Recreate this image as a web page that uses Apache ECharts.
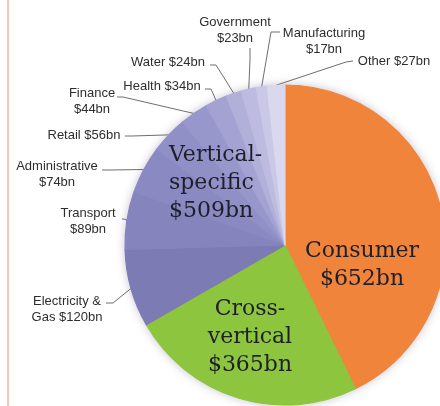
<!DOCTYPE html>
<html><head><meta charset="utf-8">
<script src="https://cdn.jsdelivr.net/npm/echarts@6/dist/echarts.min.js"></script>
<style>html,body{margin:0;padding:0;background:#fff}#c{width:440px;height:406px}</style>
</head><body><div id="c"></div>
<script>
// ---- data ----
const groupNames = ['Consumer', 'Cross-vertical', 'Vertical-specific'];
const groupValues = [652, 365, 509];
const segmentNames = ['Electricity & Gas', 'Transport', 'Administrative', 'Retail', 'Finance',
  'Health', 'Water', 'Government', 'Manufacturing', 'Other'];
const segmentValues = [120, 89, 74, 56, 44, 34, 24, 23, 17, 27];

// ---- styles ----
const groupColors = ['#f0843a', '#8dc53f'];
const segmentColors = ['#7c7bb4', '#8584bd', '#8a89c2', '#908fc6', '#9897cb',
  '#a3a2d2', '#b1b0d9', '#bdbce0', '#c9c8e6', '#d9d8ee'];

// ---- label layout (text placement only) ----
const groupLabelLayout = [
  { x: 362, y: 265, align: 'center' },
  { x: 250, y: 337, align: 'center' },
  { x: 169, y: 183, align: 'left' }
];
const segLabelLayout = [
  { x: 67,  y: 309, wrap: ' Gas', end: [106, 303], elbow: [113, 303] },
  { x: 88,  y: 221, wrap: ' $',   end: [122, 219], elbow: [124, 219] },
  { x: 57,  y: 174, wrap: ' $',   end: [102, 170], elbow: [110, 170] },
  { x: 84,  y: 135, wrap: null,   end: [125, 136], elbow: [132, 136] },
  { x: 92,  y: 101, wrap: ' $',   end: [117, 97],  elbow: [123, 97] },
  { x: 162, y: 86,  wrap: null,   end: [205, 89],  elbow: [211, 89] },
  { x: 168, y: 62,  wrap: null,   end: [210, 65],  elbow: [216, 65] },
  { x: 235, y: 30,  wrap: ' $',   end: [250, 48],  elbow: [250, 60] },
  { x: 324, y: 41,  wrap: ' $',   end: [280, 32],  elbow: [271, 32] },
  { x: 394, y: 61,  wrap: null,   end: [353, 61],  elbow: [346, 62] }
];

const CENTER = [285, 245];
const RADIUS = 160;

function sty(c) { return { color: c, borderColor: c, borderWidth: 1.2, borderType: 'solid', opacity: 1 }; }

const detailData = [
  { name: groupNames[0], value: groupValues[0], itemStyle: sty(groupColors[0]), label: { show: false }, labelLine: { show: false } },
  { name: groupNames[1], value: groupValues[1], itemStyle: sty(groupColors[1]), label: { show: false }, labelLine: { show: false } }
].concat(segmentNames.map((n, i) => ({ name: n, value: segmentValues[i], itemStyle: sty(segmentColors[i]) })));

const groupData = groupNames.map((n, i) => ({ name: n, value: groupValues[i] }));

const chart = echarts.init(document.getElementById('c'), null, { renderer: 'canvas' });
chart.setOption({
  backgroundColor: '#ffffff',
  animation: false,
  graphic: [{
    type: 'rect', left: 7, top: 0, z: 0,
    shape: { width: 2, height: 406 },
    style: { fill: '#ecccb8' }
  }],
  series: [
    {
      type: 'pie', z: 1, silent: true,
      center: CENTER, radius: RADIUS,
      data: [{ value: 1 }],
      itemStyle: { color: '#ffffff', shadowBlur: 10, shadowColor: 'rgba(70,70,110,0.35)', borderWidth: 0 },
      label: { show: false }, labelLine: { show: false },
      emphasis: { disabled: true }
    },
    {
      type: 'pie', z: 2, silent: true,
      center: CENTER, radius: RADIUS,
      startAngle: 90, clockwise: true, padAngle: 0, minAngle: 0,
      avoidLabelOverlap: false,
      data: detailData,
      emphasis: { disabled: true },
      label: {
        show: true, position: 'outside',
        fontFamily: 'Tahoma, "Liberation Sans", Arial, sans-serif',
        fontSize: 13, lineHeight: 16, color: '#2e2e2e',
        formatter: p => {
          const L = segLabelLayout[p.dataIndex - 2];
          let t = p.name + ' $' + p.value + 'bn';
          if (L && L.wrap) t = t.replace(L.wrap, '\n' + L.wrap.trim());
          return t;
        }
      },
      labelLine: { show: true, length: 10, length2: 10, smooth: false, lineStyle: { color: '#6e6e6e', width: 1 } },
      labelLayout: params => {
        const L = segLabelLayout[params.dataIndex - 2];
        if (!L) return {};
        const out = { x: L.x, y: L.y, align: 'center', verticalAlign: 'middle' };
        const pts = params.labelLinePoints;
        if (pts && pts[0]) {
          out.labelLinePoints = [[pts[0][0], pts[0][1]], L.elbow.slice(), L.end.slice()];
        }
        return out;
      }
    },
    {
      type: 'pie', z: 3, silent: true,
      center: CENTER, radius: RADIUS,
      startAngle: 90, clockwise: true,
      data: groupData,
      itemStyle: { color: 'rgba(0,0,0,0)', borderColor: 'rgba(0,0,0,0)', borderWidth: 0 },
      emphasis: { disabled: true },
      label: {
        show: true, position: 'inside',
        fontFamily: '"DejaVu Serif", serif',
        fontSize: 22, lineHeight: 28, color: '#1f1f2b',
        formatter: p => p.name.replace('-', '-\n') + '\n$' + p.value + 'bn'
      },
      labelLine: { show: false },
      labelLayout: params => {
        const L = groupLabelLayout[params.dataIndex];
        return { x: L.x, y: L.y, align: L.align, verticalAlign: 'middle' };
      }
    }
  ]
});
</script>
</body></html>
